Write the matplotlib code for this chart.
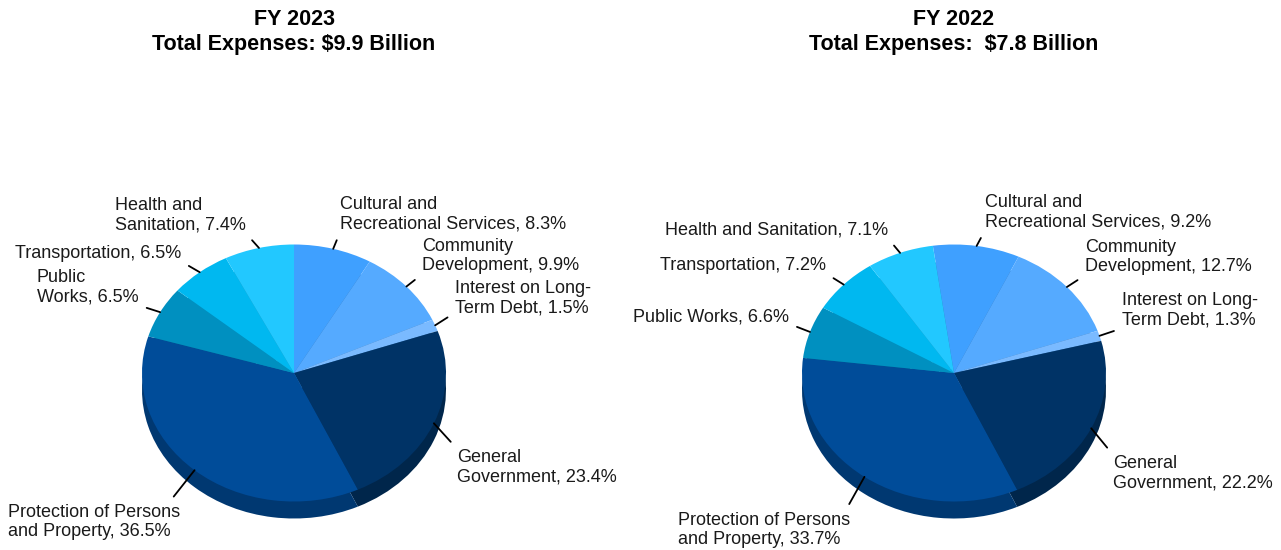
import numpy as np
import matplotlib.pyplot as plt
from matplotlib.colors import to_rgb

plt.rcParams['font.family'] = ['Liberation Sans', 'DejaVu Sans']

# slices go clockwise from the top
labels_2023 = ['Cultural and\nRecreational Services', 'Community\nDevelopment',
               'Interest on Long-\nTerm Debt', 'General\nGovernment',
               'Protection of Persons\nand Property', 'Public\nWorks',
               'Transportation', 'Health and\nSanitation']
values_2023 = [8.3, 9.9, 1.5, 23.4, 36.5, 6.5, 6.5, 7.4]

labels_2022 = ['Cultural and\nRecreational Services', 'Community\nDevelopment',
               'Interest on Long-\nTerm Debt', 'General\nGovernment',
               'Protection of Persons\nand Property', 'Public Works',
               'Transportation', 'Health and Sanitation']
values_2022 = [9.2, 12.7, 1.3, 22.2, 33.7, 6.6, 7.2, 7.1]

titles = ['FY 2023\nTotal Expenses: $9.9 Billion',
          'FY 2022\nTotal Expenses:  $7.8 Billion']

colors = ['#3fa0ff', '#55aaff', '#7abaff', '#003366',
          '#004c99', '#0090c0', '#00b8f0', '#22c8ff']
side_colors = [tuple(c * 0.74 for c in to_rgb(col)) for col in colors]

W, H = 1281, 550
fig = plt.figure(figsize=(W / 100, H / 100), dpi=100)

RX, RY, DEPTH = 152, 128.5, 17   # pie size in pixels

# label text: left edge x, vertical centre y (pixels from top), line anchor on text
layout_2023 = [((340, 214), (0, 0)), ((422, 256), (0, 0)), ((455, 298), (0, 0.1)),
               ((457, 467), (0, 1)), ((8, 522), (0.93, 1)), ((37, 287), (1, 0)),
               ((15, 253), (1, 0)), ((115, 215), (1, 0))]
layout_2022 = [((985, 212), (0, 0)), ((1085, 257), (0, 0)), ((1122, 310), (0, 0)),
               ((1113, 473), (0, 1)), ((678, 530), (0.97, 1)), ((633, 317), (1, 0.1)),
               ((660, 265), (1, 0)), ((665, 230), (1, 0))]


def draw_pie(rect, cx, cy, values, labels, layout, start, title):
    ax = fig.add_axes(rect)
    x0 = rect[0] * W
    w = rect[2] * W
    d = DEPTH / RY
    # darker copy shifted down gives the rim
    ax.pie(values, colors=side_colors, startangle=start, counterclock=False,
           center=(0, -d), radius=1, wedgeprops=dict(linewidth=0))
    wedges, _ = ax.pie(values, colors=colors, startangle=start, counterclock=False,
                       radius=1, wedgeprops=dict(linewidth=0))
    ax.set_aspect('auto')
    ax.set_xlim(-(cx - x0) / RX, (x0 + w - cx) / RX)
    ax.set_ylim(-(H - cy) / RY, cy / RY)
    ax.axis('off')

    for wdg, v, lab, ((tx, ty), rp) in zip(wedges, values, labels, layout):
        t = np.deg2rad((wdg.theta1 + wdg.theta2) / 2)
        ax.annotate(f'{lab}, {v:.1f}%', xy=(np.cos(t), np.sin(t)), xycoords='data',
                    xytext=(tx, H - ty), textcoords='figure pixels',
                    ha='left', va='center', fontsize=13, color='#1a1a1a',
                    annotation_clip=False,
                    arrowprops=dict(arrowstyle='-', color='black', lw=1.3,
                                    shrinkA=4, shrinkB=0, relpos=rp))

    fig.text(cx / W, 1 - 32 / H, title, ha='center', va='center',
             fontsize=15.5, fontweight='bold', linespacing=1.3)


draw_pie([0, 0, 0.5, 1], 294, 373, values_2023, labels_2023, layout_2023, 90, titles[0])
draw_pie([0.5, 0, 0.5, 1], 954, 373, values_2022, labels_2022, layout_2022, 98, titles[1])

fig.savefig('out.png', dpi=100)
